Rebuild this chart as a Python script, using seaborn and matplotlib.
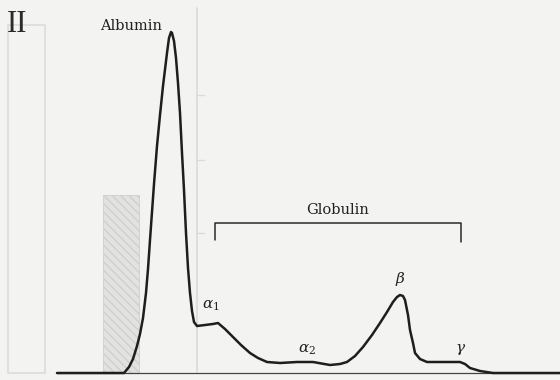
import numpy as np
import pandas as pd
import matplotlib
matplotlib.use("Agg")
import matplotlib.pyplot as plt
import seaborn as sns

# ── Data ────────────────────────────────────────────────────
# migration distance (px-like units) and protein concentration (arbitrary)
distance = [57, 124, 129, 133, 137, 140, 143, 146, 148, 150, 152, 154, 157,
            160, 163, 167, 169, 171, 172, 174, 176, 178, 180, 182, 184, 186,
            188, 190, 192, 194,
            197, 205, 213, 218, 225, 233, 241, 250, 258, 267, 280, 297, 313,
            330, 340, 347, 355, 363, 372, 380, 387, 393, 397, 400, 403, 405,
            408, 410, 413, 415, 420, 427, 440, 452, 460, 465, 470, 480, 493,
            560]
concentration = [0, 0, 6, 14, 27, 39, 55, 80, 104, 133, 161, 189, 227,
                 258, 287, 320, 335, 341, 340, 332, 315, 290, 260, 220, 183, 140,
                 105, 80, 62, 51,
                 47, 48, 49, 50, 44, 36, 28, 20, 15, 11, 10, 11, 11,
                 8, 9, 11, 17, 26, 38, 50, 61, 71, 76, 78, 77, 73,
                 58, 43, 30, 20, 14, 11, 11, 11, 11, 9, 5, 2, 0,
                 0]

# normal-rate reference bar (hatched)
bar_center = 121
bar_width = 36
bar_height = 178

# faint bleed-through bar on the left
ghost_center = 26.5
ghost_width = 37
ghost_height = 348

peak_labels = [r"$\alpha_1$", r"$\alpha_2$", r"$\beta$", r"$\gamma$"]
peak_x = [211, 307, 400, 461]
peak_y = [60, 16, 85, 16]

globulin_span = [215, 461]
globulin_level = 150

df = pd.DataFrame({"distance": distance, "concentration": concentration})

# ── Figure ──────────────────────────────────────────────────
sns.set_theme(style="white")
plt.rcParams["font.family"] = ["DejaVu Serif"]
plt.rcParams["mathtext.fontset"] = "dejavuserif"

fig = plt.figure(figsize=(5.6, 3.8), dpi=100)
fig.patch.set_facecolor("#f3f3f1")
ax = fig.add_axes([0, 0, 1, 1])
ax.set_facecolor("#f3f3f1")

# faint bleed-through elements from the facing page
ax.bar(ghost_center, ghost_height, width=ghost_width, fill=False,
       edgecolor="#dcdcda", linewidth=1.2)
ax.axvline(197, ymin=0.02, ymax=0.98, color="#dadad8", linewidth=1.2)
for v in [140, 213, 278]:
    ax.plot([197, 204], [v, v], color="#dadad8", linewidth=1)

# normal rate bar (hatched)
ax.bar(bar_center, bar_height, width=bar_width, color="#e2e2e0",
       edgecolor="#cfcfcd", hatch="\\\\\\\\", linewidth=0.6)

# baseline
ax.axhline(0, xmin=57 / 560, xmax=1, color="#444444", linewidth=0.9)

# trace
sns.lineplot(data=df, x="distance", y="concentration", ax=ax,
             color="#1e1e1e", linewidth=1.8, sort=False)
ax.set_xlim(0, 560)
ax.set_ylim(-7, 373)
ax.axis("off")

# globulin bracket
g0, g1 = globulin_span
ax.plot([g0, g0, g1, g1], [globulin_level - 17, globulin_level,
                           globulin_level, globulin_level - 19],
        color="#2a2a2a", linewidth=1.1)
ax.text((g0 + g1) / 2, 159, "Globulin", ha="center",
        va="baseline", fontsize=10.5, color="#222222")

ax.text(131, 343, "Albumin", ha="center", va="baseline", fontsize=10.5,
        color="#222222")
ax.text(7, 341, "II", ha="left", va="baseline", fontsize=22,
        color="#2a2a2a", family="Liberation Serif")

for lab, x, y in zip(peak_labels, peak_x, peak_y):
    ax.text(x, y, lab, ha="center", va="bottom", fontsize=11,
            color="#222222")

fig.savefig("out.png", dpi=100, facecolor=fig.get_facecolor())
